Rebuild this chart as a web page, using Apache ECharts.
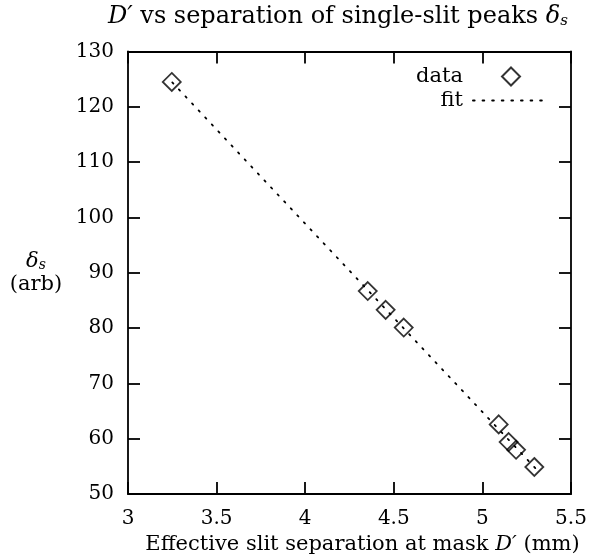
<!DOCTYPE html>
<html><head><meta charset="utf-8">
<script src="https://cdn.jsdelivr.net/npm/echarts@6/dist/echarts.min.js"></script>
<style>html,body{margin:0;padding:0;background:#fff}#c{width:593px;height:560px}</style>
</head><body><div id="c"></div>
<script>
const dataX = [3.247, 4.353, 4.454, 4.556, 5.092, 5.148, 5.19, 5.293];
const dataY = [124.5, 86.7, 83.3, 80.1, 62.6, 59.4, 58.0, 54.9];
const fitX = [3.25, 5.31];
const fitY = [124.4, 54.3];
const xTicks = [3, 3.5, 4, 4.5, 5, 5.5];
const yTicks = [50, 60, 70, 80, 90, 100, 110, 120, 130];

const FONT = '"DejaVu Serif", "Liberation Serif", serif';
const FS = 21;
const chart = echarts.init(document.getElementById('c'));
const axisCommon = {
  axisLine: {show: true, lineStyle: {color: '#000', width: 1.8}},
  axisTick: {show: true, inside: true, length: 12, lineStyle: {color: '#000', width: 1.8}},
  splitLine: {show: false}
};
const legendText = {fontFamily: FONT, fontSize: 21, color: '#000'};
chart.setOption({
  animation: false,
  backgroundColor: '#fff',
  title: {
    text: '{i|D′} vs separation of single-slit peaks {i|δ}{sub|s}',
    left: 108, top: 5, padding: 0,
    textStyle: {
      fontFamily: FONT, fontSize: 24, fontWeight: 'normal', color: '#000',
      rich: {
        i: {fontFamily: FONT, fontSize: 24, fontStyle: 'italic', color: '#000'},
        sub: {fontFamily: FONT, fontSize: 15, fontStyle: 'italic', color: '#000', verticalAlign: 'bottom', padding: [9, 0, 0, 0]}
      }
    }
  },
  grid: {left: 128, right: 22, top: 51.5, bottom: 64},
  legend: [
    {
      orient: 'vertical', right: 72, top: 66, align: 'right', padding: 0,
      itemWidth: 18, itemHeight: 18,
      textStyle: Object.assign({padding: [0, 34, 0, 0]}, legendText),
      data: ['data']
    },
    {
      orient: 'vertical', right: 43, top: 90, align: 'right', padding: 0,
      itemWidth: 76, itemHeight: 18,
      textStyle: Object.assign({padding: [0, 5, 0, 0]}, legendText),
      data: [{name: 'fit', itemStyle: {color: 'rgba(0,0,0,0)', borderWidth: 0, opacity: 0}}]
    }
  ],
  xAxis: [
    Object.assign({}, axisCommon, {
      type: 'value', min: 3, max: 5.5, interval: 0.5, position: 'bottom',
      name: 'Effective slit separation at mask {i|D′} (mm)',
      nameLocation: 'middle', nameGap: 35,
      nameTextStyle: {fontFamily: FONT, fontSize: FS, color: '#000', padding: [0, 0, 0, 26],
        rich: {i: {fontFamily: FONT, fontSize: FS, fontStyle: 'italic', color: '#000'}}},
      axisLabel: {fontFamily: FONT, fontSize: 20, color: '#000', margin: 15,
        formatter: v => xTicks.includes(v) ? String(v) : ''}
    }),
    Object.assign({}, axisCommon, {
      type: 'value', min: 3, max: 5.5, interval: 0.5, position: 'top',
      axisLabel: {show: false}
    })
  ],
  yAxis: [
    Object.assign({}, axisCommon, {
      type: 'value', min: 50, max: 130, interval: 10, position: 'left',
      name: '{i|δ}{sub|s}\n(arb)', nameLocation: 'middle', nameRotate: 0, nameGap: 92,
      nameTextStyle: {fontFamily: FONT, fontSize: FS, color: '#000', lineHeight: 23, align: 'center',
        rich: {
          i: {fontFamily: FONT, fontSize: FS, fontStyle: 'italic', color: '#000'},
          sub: {fontFamily: FONT, fontSize: 14, fontStyle: 'italic', color: '#000', verticalAlign: 'bottom', padding: [8, 0, 0, 0]}
        }},
      axisLabel: {fontFamily: FONT, fontSize: 20, color: '#000', margin: 14,
        formatter: v => yTicks.includes(v) ? String(v) : ''}
    }),
    Object.assign({}, axisCommon, {
      type: 'value', min: 50, max: 130, interval: 10, position: 'right',
      axisLabel: {show: false}
    })
  ],
  series: [
    {
      name: 'fit', type: 'line', xAxisIndex: 0, yAxisIndex: 0,
      data: fitX.map((x, i) => [x, fitY[i]]),
      symbol: 'none', showSymbol: false, z: 1,
      lineStyle: {color: '#000', width: 1.8, type: [1.6, 8], cap: 'round'},
      itemStyle: {color: '#000'}
    },
    {
      name: 'data', type: 'scatter', xAxisIndex: 0, yAxisIndex: 0,
      data: dataX.map((x, i) => [x, dataY[i]]),
      symbol: 'diamond', symbolSize: 18, z: 2,
      itemStyle: {color: 'rgba(255,255,255,0)', borderColor: '#000', borderWidth: 1.8}
    }
  ]
});
</script>
</body></html>
